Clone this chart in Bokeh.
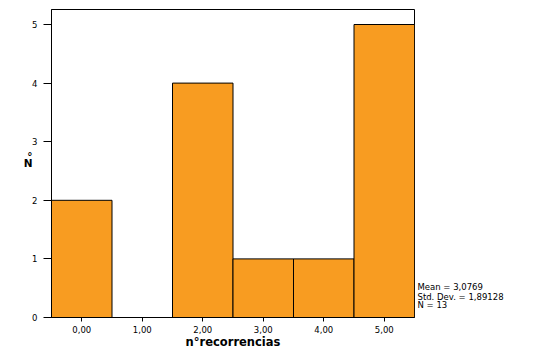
from bokeh.plotting import figure
from bokeh.models import Range1d, FixedTicker, LinearAxis
from bokeh.embed import file_html
from bokeh.resources import INLINE

# Data
categories = [0, 1, 2, 3, 4, 5]
counts = [2, 0, 4, 1, 1, 5]
x_tick_labels = ["0,00", "1,00", "2,00", "3,00", "4,00", "5,00"]
y_ticks = [0, 1, 2, 3, 4, 5]
stats_lines = ["Mean = 3,0769", "Std. Dev. = 1,89128", "N = 13"]
stats_pos = [0.512, 0.358, 0.205]
x_title = "n°recorrencias"
y_title_parts = ["N", "°"]
y_title_pos = [2.63, 2.76]

BAR = "#f89c21"
FONT = "DejaVu Sans"

p = figure(width=554, height=358, frame_width=363, frame_height=308,
           output_backend="svg", toolbar_location=None,
           x_range=Range1d(-0.5, 5.5), y_range=Range1d(0, 5.256),
           min_border_left=51, min_border_right=140, min_border_top=9, min_border_bottom=41)

p.vbar(x=categories, top=counts, width=1.0, bottom=0,
       fill_color=BAR, line_color="black", line_width=1)

p.xgrid.visible = False
p.ygrid.visible = False
p.outline_line_color = "black"
p.outline_line_alpha = 1

for ax in (p.xaxis, p.yaxis):
    ax.major_tick_in = 0
    ax.minor_tick_line_color = None
    ax.major_label_text_font = FONT
    ax.major_label_text_font_size = "8.5px"
    ax.major_label_text_color = "black"
    ax.axis_line_color = "black"
    ax.major_tick_line_color = "black"

p.xaxis.ticker = FixedTicker(ticks=categories)
p.xaxis.major_label_overrides = {c: l for c, l in zip(categories, x_tick_labels)}
p.xaxis.major_tick_out = 4
p.xaxis.major_label_standoff = 4
p.xaxis.axis_label = x_title
p.xaxis.axis_label_text_font = FONT
p.xaxis.axis_label_text_font_style = "bold"
p.xaxis.axis_label_text_font_size = "11.5px"
p.xaxis.axis_label_text_color = "black"
p.xaxis.axis_label_standoff = -1

p.yaxis.ticker = FixedTicker(ticks=y_ticks)
p.yaxis.major_tick_out = 8
p.yaxis.major_label_standoff = 6

# Upright y title "N°" as an extra, line-less axis on the left
ytitle_axis = LinearAxis(ticker=FixedTicker(ticks=y_title_pos),
                         major_label_overrides={t: s for t, s in zip(y_title_pos, y_title_parts)},
                         axis_line_color=None, major_tick_line_color=None,
                         minor_tick_line_color=None, major_tick_out=0, major_tick_in=0,
                         major_label_standoff=-3, major_label_text_font=FONT,
                         major_label_text_font_style="bold", major_label_text_font_size="10.5px",
                         major_label_text_color="black")
p.add_layout(ytitle_axis, "left")

# Stats block as a line-less axis on the right
stats_axis = LinearAxis(ticker=FixedTicker(ticks=stats_pos),
                        major_label_overrides={t: s for t, s in zip(stats_pos, stats_lines)},
                        axis_line_color=None, major_tick_line_color=None,
                        minor_tick_line_color=None, major_tick_out=0, major_tick_in=0,
                        major_label_standoff=3, major_label_text_font=FONT,
                        major_label_text_font_size="8.5px",
                        major_label_text_color="black")
p.add_layout(stats_axis, "right")

open("out.html", "w").write(file_html(p, INLINE))
